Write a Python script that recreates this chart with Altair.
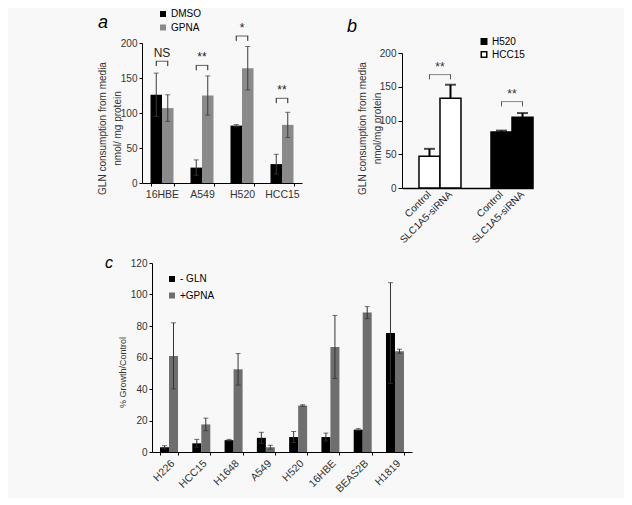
import altair as alt
import pandas as pd

FONT = "Liberation Sans"
TXT = "#333333"
BG = "#f8f8f8"

# ---------------- Panel a data ----------------
a_cells = ["16HBE", "A549", "H520", "HCC15"]
a_treats = ["DMSO", "GPNA"]
a_dmso = [126, 22, 82, 27]
a_dmso_err = [31, 11, 1.5, 14]
a_gpna = [107, 125, 164, 83]
a_gpna_err = [19, 28, 31, 18]
a_sig = ["NS", "**", "*", "**"]
a_sig_y = [174, 168, 210, 121]

# ---------------- Panel b data ----------------
b_lines = ["HCC15", "H520"]
b_conds = ["Control", "SLC1A5-siRNA"]
b_hcc15 = [47, 133]
b_hcc15_err = [11, 20]
b_h520 = [83, 105]
b_h520_err = [2, 6]
b_sig = ["**", "**"]
b_sig_y = [168, 128]

# ---------------- Panel c data ----------------
c_cells = ["H226", "HCC15", "H1648", "A549", "H520", "16HBE", "BEAS2B", "H1819"]
c_treats = ["- GLN", "+GPNA"]
c_gln = [3, 5.5, 7.5, 9, 9.5, 9.5, 14.2, 75.5]
c_gln_err = [1, 2.5, 0.5, 3.5, 3.5, 2.5, 0.6, 32]
c_gpna = [61, 17.5, 52.5, 3, 29.5, 66.7, 88.5, 64]
c_gpna_err = [21, 4, 10, 1.3, 0.5, 20, 3.8, 1.3]

LEG_A = 7   # bracket leg length (data units)
LEG_B = 7


def letter(t, x, y, fs):
    return alt.Chart(pd.DataFrame({"t": [t]})).mark_text(
        font=FONT, fontSize=fs, fontStyle="italic", align="left",
        baseline="alphabetic").encode(
        x=alt.value(x), y=alt.value(y), text="t:N", color=alt.value("black"))


def ghost(x, y, align, baseline):
    # background-coloured dot that pins the outer extent of the figure
    return alt.Chart(pd.DataFrame({"t": ["."]})).mark_text(
        fontSize=6, align=align, baseline=baseline).encode(
        x=alt.value(x), y=alt.value(y), text="t:N", color=alt.value(BG))


def make_y(field, domain, values, title, titleX, titleY, titleFS, tick, rng=None, offset=0):
    sc = alt.Scale(domain=domain, nice=False) if rng is None else \
        alt.Scale(domain=domain, nice=False, range=rng)
    return alt.Y(field, scale=sc,
                 axis=alt.Axis(values=values, title=title, grid=False, domainColor="black",
                               tickColor="black", tickSize=tick, labelColor=TXT,
                               labelFontSize=10, labelFont=FONT, titleFont=FONT,
                               titleFontSize=titleFS, titleFontWeight="normal", titleColor=TXT,
                               titleX=titleX, titleY=titleY, titleBaseline="middle",
                               titleAlign="center", titleAngle=270, titleLineHeight=15,
                               labelPadding=2, labelOverlap=False, offset=offset))


def grouped(df, key_field, keys, xenc, yf, colorenc, bw, cap, err_color, err_w,
            both_caps, bar_kwargs, err_first=False):
    bars, errs = [], []
    for i, k in enumerate(keys):
        off = (i - 0.5) * bw
        base = alt.Chart(df).transform_filter(alt.datum[key_field] == k)
        bars.append(base.mark_bar(size=bw, xOffset=off, **bar_kwargs).encode(
            x=xenc, y=yf("val:Q"), color=colorenc))
        lo = "lo:Q" if both_caps else "val:Q"
        errs.append(base.mark_rule(xOffset=off, color=err_color, strokeWidth=err_w).encode(
            x=xenc, y=yf(lo), y2="hi:Q"))
        errs.append(base.mark_tick(xOffset=off, color=err_color, thickness=err_w, size=cap).encode(
            x=xenc, y=yf("hi:Q")))
        if both_caps:
            errs.append(base.mark_tick(xOffset=off, color=err_color, thickness=err_w, size=cap).encode(
                x=xenc, y=yf("lo:Q")))
    return errs + bars if err_first else bars + errs


def brackets(df, xenc, yf, bw, leg, color, txt_color, fs):
    lay = []
    for i in range(2):
        off = (i - 0.5) * bw
        lay.append(alt.Chart(df).transform_calculate(y0=alt.datum.y - leg).mark_rule(
            xOffset=off, strokeWidth=1).encode(
            x=xenc, y=yf("y0:Q"), y2="y:Q", color=alt.value(color)))
    lay.append(alt.Chart(df).mark_tick(thickness=1, size=bw + 1).encode(
        x=xenc, y=yf("y:Q"), color=alt.value(color)))
    lay.append(alt.Chart(df).mark_text(font=FONT, fontSize=fs, baseline="bottom", dy=-1).encode(
        x=xenc, y=yf("y:Q"), text="s:N", color=alt.value(txt_color)))
    return lay


def legend(x, y, row_pad, size, **kw):
    return alt.Legend(orient="none", legendX=x, legendY=y, title=None,
                      symbolType="square", symbolSize=size, labelFont=FONT,
                      labelFontSize=10, labelColor="black", rowPadding=row_pad,
                      labelOffset=3, padding=0, **kw)


# ================= Panel a =================
dfa = pd.DataFrame({
    "cell": a_cells * 2,
    "treat": ["DMSO"] * 4 + ["GPNA"] * 4,
    "val": a_dmso + a_gpna,
    "err": a_dmso_err + a_gpna_err,
})
dfa["lo"] = dfa["val"] - dfa["err"]
dfa["hi"] = dfa["val"] + dfa["err"]

xa = alt.X("cell:N",
           scale=alt.Scale(type="band", domain=a_cells, paddingInner=0.425, paddingOuter=0.2125),
           axis=alt.Axis(title=None, labelAngle=0, tickBand="extent", grid=False,
                         domainColor="black", tickColor="black", tickSize=3,
                         labelColor=TXT, labelFont=FONT, labelFontSize=10.5,
                         labelPadding=3))


def ya(f):
    return make_y(f, [0, 200], [0, 50, 100, 150, 200],
                  ["GLN consumption from media", "nmol/ mg protein"], -40, 85, 10, 3)


col_a = alt.Color("treat:N", scale=alt.Scale(domain=a_treats, range=["#000000", "#8a8a8a"]),
                  legend=legend(16, -34, 3.5, 36))
a_layers = grouped(dfa, "treat", a_treats, xa, ya, col_a, 11.5, 5, "#3a3a3a", 1, True, {})
a_layers += brackets(pd.DataFrame({"cell": a_cells, "y": a_sig_y, "s": a_sig}),
                     xa, ya, 11.5, LEG_A, "#222222", "#222222", 12)
panel_a = alt.layer(*a_layers, letter("a", -44, -15, 18),
                    ghost(-10, -35, "left", "top")).properties(width=160, height=140)

# ================= Panel b =================
dfb = pd.DataFrame({
    "line": ["HCC15"] * 2 + ["H520"] * 2,
    "cond": b_conds * 2,
    "val": b_hcc15 + b_h520,
    "err": b_hcc15_err + b_h520_err,
})
dfb["hi"] = dfb["val"] + dfb["err"]
dfb["lo"] = dfb["val"]

xb = alt.X("line:N",
           scale=alt.Scale(type="band", domain=b_lines, paddingInner=0.417, paddingOuter=0.118, align=1),
           axis=alt.Axis(title=None, labels=False, ticks=False, grid=False,
                         domainColor="black", domainWidth=1.5))


def yb(f):
    return make_y(f, [0, 200], [0, 50, 100, 150, 200],
                  ["GLN consumption from media", "nmol/mg protein"], -40, 85, 10, 4,
                  rng=[145, 10])


col_b = alt.Color("line:N", scale=alt.Scale(domain=["H520", "HCC15"], range=["#000000", "#ffffff"]),
                  legend=legend(77, -6.5, 1, 30, symbolStrokeColor="black", symbolStrokeWidth=1.5))
b_layers = grouped(dfb, "cond", b_conds, xb, yb, col_b, 21, 11, "black", 2, False,
                   {"stroke": "black", "strokeWidth": 1.5}, err_first=True)
b_layers += brackets(pd.DataFrame({"line": b_lines, "y": b_sig_y, "s": b_sig}),
                     xb, yb, 21, LEG_B, "#555555", "#333333", 12)
for i, k in enumerate(b_conds):
    b_layers.append(alt.Chart(dfb).transform_filter(alt.datum.cond == k).mark_text(
        font=FONT, fontSize=10, angle=315, align="right", baseline="middle",
        xOffset=(i - 0.5) * 21).encode(
        x=xb, y=alt.value(150), text="cond:N", color=alt.value("#222222")))
panel_b = alt.layer(*b_layers, letter("b", -55, -11, 18)).properties(width=131, height=145)

# ================= Panel c =================
dfc = pd.DataFrame({
    "cell": c_cells * 2,
    "treat": [c_treats[0]] * 8 + [c_treats[1]] * 8,
    "val": c_gln + c_gpna,
    "err": c_gln_err + c_gpna_err,
})
dfc["lo"] = dfc["val"] - dfc["err"]
dfc["hi"] = dfc["val"] + dfc["err"]

xc = alt.X("cell:N",
           scale=alt.Scale(type="band", domain=c_cells, paddingInner=0.446, paddingOuter=0.25,
                           range=[10, 270]),
           axis=alt.Axis(title=None, labelAngle=315, tickBand="extent", grid=False,
                         domainColor="black", tickColor="black", tickSize=3,
                         labelColor=TXT, labelFont=FONT, labelFontSize=10.5,
                         labelPadding=3))


def yc(f):
    return make_y(f, [0, 120], [0, 20, 40, 60, 80, 100, 120], "% Growth/Control",
                  -30, 109, 9, 3, offset=-10)


col_c = alt.Color("treat:N", scale=alt.Scale(domain=c_treats, range=["#000000", "#6e6e6e"]),
                  legend=legend(25, 11, 6.5, 36))
c_layers = grouped(dfc, "treat", c_treats, xc, yc, col_c, 9, 5, "#333333", 1, True, {})
panel_c = alt.layer(*c_layers, letter("c", -37, 5, 16),
                    ghost(-134, 0, "left", "top"),
                    ghost(482, 235, "right", "bottom")).properties(width=160, height=189)

chart = alt.concat(panel_a, panel_b, panel_c, columns=2, bounds="flush",
                   spacing={"row": 75, "column": 100}).resolve_scale(color="independent").properties(
    padding={"left": 0, "top": 0, "right": 0, "bottom": 0},
    background=BG,
).configure_view(stroke=None)

chart.save("out.html", embed_options={"renderer": "svg", "actions": False})
